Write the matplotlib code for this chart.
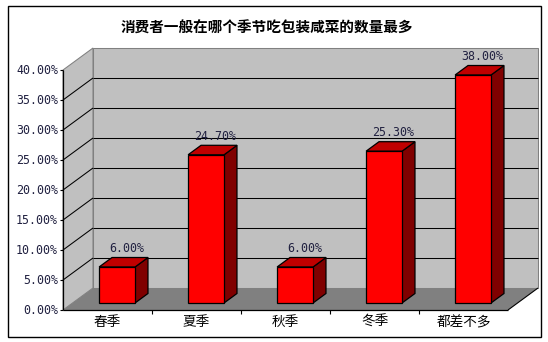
import matplotlib
matplotlib.use('Agg')
import matplotlib.pyplot as plt
from matplotlib.patches import Polygon, Rectangle
from matplotlib.transforms import offset_copy

# ---- data ----
categories = ['春季', '夏季', '秋季', '冬季', '都差不多']
values = [6.00, 24.70, 6.00, 25.30, 38.00]
yticks = [0, 5, 10, 15, 20, 25, 30, 35, 40]
ytick_labels = ['0.00%', '5.00%', '10.00%', '15.00%', '20.00%',
                '25.00%', '30.00%', '35.00%', '40.00%']
value_labels = ['6.00%', '24.70%', '6.00%', '25.30%', '38.00%']
title = '消费者一般在哪个季节吃包装咸菜的数量最多'

plt.rcParams['font.family'] = ['Noto Sans CJK SC', 'DejaVu Sans']

W, H = 548, 342
fig = plt.figure(figsize=(W / 100, H / 100), dpi=100)
fig.patch.set_facecolor('white')

# outer border
fig.patches.append(Rectangle((8 / W, 1 - 337 / H), (541 - 8) / W, (337 - 6) / H,
                             transform=fig.transFigure, fill=False,
                             edgecolor='black', linewidth=1.0))

# front plane of the plot (pixels)
L, R, T, B = 63, 508, 70, 310
ax = fig.add_axes([L / W, 1 - B / H, (R - L) / W, (B - T) / H])
n = len(categories)
ax.set_xlim(-0.5, n - 0.5)
ax.set_ylim(0, 40)
ax.axis('off')

px_x = (R - L) / n
px_y = (B - T) / 40
DX = 30 / px_x
DY = 22 / px_y
x0, x1 = -0.5, n - 0.5
ymax = 40


def poly(pts, fc, ec='none', lw=0.75, z=1):
    ax.add_patch(Polygon(pts, closed=True, facecolor=fc, edgecolor=ec,
                         linewidth=lw, clip_on=False, zorder=z))


def line(xs, ys, c='black', lw=0.75, z=2):
    ax.plot(xs, ys, color=c, lw=lw, clip_on=False, zorder=z,
            solid_capstyle='butt')


# back wall
poly([(x0 + DX, DY), (x1 + DX, DY), (x1 + DX, ymax + DY), (x0 + DX, ymax + DY)],
     '#C0C0C0', '#808080', 0.75, 1)
# side wall
poly([(x0, 0), (x0 + DX, DY), (x0 + DX, ymax + DY), (x0, ymax)],
     '#C0C0C0', '#808080', 0.75, 1)
# floor
poly([(x0, 0), (x1, 0), (x1 + DX, DY), (x0 + DX, DY)], '#808080', 'none', 0, 1)
line([x1, x1 + DX], [0, DY], 'black', 0.8, 2)

# gridlines
for y in yticks[1:-1]:
    line([x0, x0 + DX], [y, y + DY], 'black', 0.75, 2)
    line([x0 + DX, x1 + DX], [y + DY, y + DY], 'black', 0.75, 2)

# axes lines
line([x0, x0], [0, ymax], 'black', 0.9, 3)
line([x0, x1], [0, 0], 'black', 0.9, 3)

tick_px = 3
tdx = tick_px / px_x
tdy = 4 / px_y
for y, lab in zip(yticks, ytick_labels):
    line([x0 - tdx, x0], [y, y], 'black', 0.8, 3)
    tr = offset_copy(ax.transData, fig=fig, x=-5, y=0, units='dots')
    ax.text(x0, y, lab, transform=tr, ha='right', va='center',
            family='DejaVu Sans Mono', fontsize=8.4, color='#202040')
for k in range(1, n):
    line([k - 0.5, k - 0.5], [0, -tdy], 'black', 0.8, 3)

# category labels
for i, c in enumerate(categories):
    tr = offset_copy(ax.transData, fig=fig, x=0, y=-12, units='dots')
    ax.text(i, 0, c, transform=tr, ha='center', va='center', fontsize=9.8,
            color='black')

# bars
hw = 0.202
d0, d1 = 0.32, 0.75
for i, (v, lab) in enumerate(zip(values, value_labels)):
    a, b = i - hw, i + hw
    fz = 10 + i
    # side
    poly([(b + d0 * DX, d0 * DY), (b + d1 * DX, d1 * DY),
          (b + d1 * DX, v + d1 * DY), (b + d0 * DX, v + d0 * DY)],
         '#800000', 'black', 0.9, fz)
    # top
    poly([(a + d0 * DX, v + d0 * DY), (b + d0 * DX, v + d0 * DY),
          (b + d1 * DX, v + d1 * DY), (a + d1 * DX, v + d1 * DY)],
         '#C00000', 'black', 0.9, fz)
    # front
    poly([(a + d0 * DX, d0 * DY), (b + d0 * DX, d0 * DY),
          (b + d0 * DX, v + d0 * DY), (a + d0 * DX, v + d0 * DY)],
         '#FF0000', 'black', 0.9, fz)
    tr = offset_copy(ax.transData, fig=fig, x=3, y=9, units='dots')
    ax.text(i + (d0 + d1) / 2 * DX, v + d1 * DY, lab, transform=tr,
            ha='center', va='center', family='DejaVu Sans Mono',
            fontsize=8.4, color='#202040', zorder=30)

# title
fig.text(267 / W, 1 - 28 / H, title, ha='center', va='center',
         fontsize=10.5, fontweight='bold', color='black')

fig.savefig('out.png', dpi=100, facecolor='white')
